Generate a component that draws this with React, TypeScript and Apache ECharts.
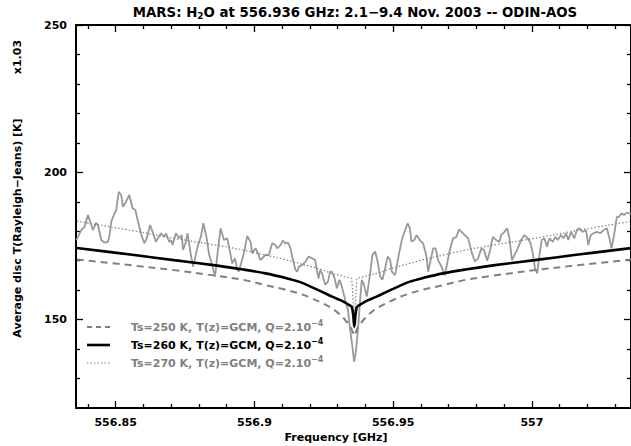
import React, { useEffect, useRef } from "react";
import * as echarts from "echarts";

const FONT = "DejaVu Sans";

const xMin = 556.8357;
const xMax = 557.0357;
const yMin = 120;
const yMax = 250;
const xMajorTicks = [556.85, 556.9, 556.95, 557];
const xMinorTicks = [556.84, 556.86, 556.87, 556.88, 556.89, 556.91, 556.92, 556.93, 556.94, 556.96, 556.97, 556.98, 556.99, 557.01, 557.02, 557.03];
const yMajorTicks = [150, 200, 250];
const yMinorTicks = [130, 140, 160, 170, 180, 190, 210, 220, 230, 240];

const modelFreq = [
  556.836, 556.856, 556.871, 556.886, 556.896, 556.904, 556.911, 556.916, 556.92, 556.924, 556.928, 556.931,
  556.9327, 556.934, 556.935, 556.9352, 556.9356, 556.936, 556.9364, 556.9368, 556.937, 556.938, 556.9393,
  556.941, 556.944, 556.948, 556.952, 556.956, 556.961, 556.968, 556.976, 556.986, 557.001, 557.016, 557.036,
];
const model250 = [
  170.4, 168.4, 166.8, 164.9, 163.5, 161.7, 160.2, 158.9, 157.5, 155.8, 153.8, 151.6, 149.9, 148.4, 146.8, 146.3, 145.4,
  144.5,
  145.4, 146.3, 146.8, 148.4, 149.9, 151.6, 153.8, 155.8, 157.5, 158.9, 160.2, 161.7, 163.5, 164.9, 166.8, 168.4, 170.4,
];
const model260 = [
  174.3, 172.0, 170.2, 168.4, 167.0, 165.7, 164.2, 162.9, 161.3, 159.6, 157.8, 156.6, 155.8, 155.0, 154.4, 154.0, 151.5,
  147.6,
  151.5, 154.0, 154.4, 155.0, 155.8, 156.6, 157.8, 159.6, 161.3, 162.9, 164.2, 165.7, 167.0, 168.4, 170.2, 172.0, 174.3,
];
const model270 = [
  183.4, 180.2, 177.6, 175.3, 173.6, 171.9, 170.4, 169.1, 168.1, 167.0, 165.7, 165.0, 164.5, 164.2, 164.0, 162.0, 156.0,
  149.0,
  156.0, 162.0, 164.0, 164.2, 164.5, 165.0, 165.7, 167.0, 168.1, 169.1, 170.4, 171.9, 173.6, 175.3, 177.6, 180.2, 183.4,
];

const obsFreq = [
  556.8358, 556.8376, 556.8388, 556.84, 556.8412, 556.8418, 556.843, 556.8436, 556.8448, 556.846, 556.8472, 556.8478,
  556.8484, 556.8496, 556.8502, 556.8511, 556.852, 556.8526, 556.8537, 556.8549, 556.8555, 556.8561, 556.8571, 556.8579,
  556.8591, 556.8603, 556.8612, 556.8624, 556.8633, 556.8645, 556.8663, 556.8675, 556.8681, 556.8693, 556.8699, 556.8705,
  556.8717, 556.8729, 556.8738, 556.8743, 556.8753, 556.8759, 556.8771, 556.8779, 556.8786, 556.8795, 556.8807, 556.8816,
  556.8827, 556.8837, 556.8843, 556.8858, 556.8867, 556.8878, 556.889, 556.8902, 556.8911, 556.892, 556.893, 556.8938,
  556.8944, 556.8962, 556.8974, 556.8986, 556.8992, 556.9004, 556.901, 556.9022, 556.9034, 556.904,
  556.9052, 556.9064, 556.9076, 556.9082, 556.9094, 556.9102, 556.9112, 556.9121, 556.913, 556.9136, 556.9148, 556.9154,
  556.916, 556.9172, 556.9184, 556.9196, 556.9208, 556.9219, 556.9225, 556.9231, 556.9237, 556.9243, 556.9255, 556.9265,
  556.9273, 556.9279, 556.9289, 556.9297, 556.9306, 556.9315, 556.9327, 556.9337, 556.9345, 556.9353, 556.9359, 556.9365,
  556.9373, 556.9381, 556.9387, 556.9395, 556.9405, 556.9417, 556.9425, 556.9435, 556.9444, 556.9453, 556.9461, 556.9471,
  556.948, 556.9489, 556.9495, 556.9507, 556.9519, 556.9531, 556.9543, 556.9552, 556.956, 556.9566, 556.9576, 556.9584,
  556.9596, 556.9608, 556.962, 556.9626, 556.9635, 556.9644, 556.9653, 556.9662, 556.9674, 556.9686,
  556.9704, 556.9716, 556.9728, 556.9737, 556.9746, 556.9758, 556.977, 556.9782, 556.9794, 556.9806, 556.9818, 556.9827,
  556.9839, 556.9848, 556.9859, 556.9871, 556.9883, 556.9889, 556.9901, 556.9911, 556.9919, 556.9928, 556.9937, 556.9949,
  556.9961, 556.9973, 556.9985, 556.9995, 557.0003, 557.0011, 557.0019, 557.0027, 557.0035, 557.0045, 557.0054, 557.0063,
  557.0075, 557.0084, 557.0093, 557.0105, 557.0114, 557.0123, 557.0131, 557.0141, 557.0153, 557.0162, 557.0171, 557.0183,
  557.0195, 557.0203, 557.0212, 557.0222, 557.0234, 557.0246, 557.0258, 557.027, 557.0278, 557.0287, 557.0296, 557.0306,
  557.0314, 557.0323, 557.0332, 557.0342, 557.035, 557.0357,
];
const obsTemp = [
  177.0, 180.4, 181.5, 185.5, 182.1, 180.4, 182.9, 182.1, 177.0, 176.1, 176.4, 178.7,
  183.2, 186.1, 187.2, 193.4, 192.3, 188.3, 190.0, 192.3, 190.0, 187.8, 187.2, 183.8,
  179.3, 175.9, 177.6, 182.1, 179.8, 176.4, 179.3, 178.1, 179.3, 176.4, 177.0, 175.3,
  179.3, 177.6, 178.7, 173.6, 176.4, 179.3, 171.9, 168.0, 170.8, 174.7, 178.1, 182.7,
  178.1, 171.9, 170.2, 164.6, 172.5, 181.0, 177.0, 177.6, 173.6, 169.1, 170.8, 166.8,
  166.3, 172.5, 178.4, 176.4, 172.5, 174.2, 173.1, 170.2, 171.4, 172.0,
  171.9, 175.9, 175.3, 174.2, 175.3, 176.8, 175.9, 176.1, 174.2, 171.4, 166.8, 166.3,
  168.0, 168.5, 169.7, 171.4, 170.8, 170.2, 166.8, 164.0, 166.8, 165.9, 161.8, 162.9,
  166.3, 166.3, 164.0, 160.6, 163.5, 161.2, 156.7, 153.3, 146.5, 140.8, 135.7, 138.6,
  146.5, 156.7, 163.5, 161.8, 157.8, 165.7, 171.9, 173.1, 169.7, 164.6, 163.5, 167.4,
  171.4, 170.2, 166.3, 165.1, 171.4, 177.0, 180.4, 182.7, 181.0, 176.5, 177.0, 178.7,
  177.0, 175.9, 171.4, 166.3, 170.2, 174.2, 174.2, 170.2, 168.0, 165.0,
  173.6, 177.6, 178.1, 180.6, 179.8, 178.7, 177.6, 173.1, 169.7, 170.8, 174.2, 173.6,
  170.0, 173.1, 178.1, 177.0, 176.4, 178.7, 179.8, 181.0, 177.6, 170.2, 171.9, 174.2,
  177.0, 178.7, 177.6, 175.9, 172.5, 167.4, 165.7, 171.9, 177.0, 177.6, 174.7, 177.6,
  176.4, 178.1, 177.0, 178.7, 177.6, 179.3, 177.0, 179.8, 177.6, 180.4, 181.0, 179.8,
  180.4, 175.3, 178.7, 179.3, 179.8, 179.3, 180.4, 181.0, 178.1, 174.2, 178.7, 184.9,
  184.9, 186.1, 185.5, 186.3, 186.1, 186.0,
];

const legendLabels = [
  "Ts=250 K, T(z)=GCM, Q=2.10{sup|−4}",
  "Ts=260 K, T(z)=GCM, Q=2.10{sup|−4}",
  "Ts=270 K, T(z)=GCM, Q=2.10{sup|−4}",
];
const titleText = "MARS: H{sub|2}O at 556.936 GHz: 2.1−9.4 Nov. 2003 -- ODIN-AOS";
const yAxisTitle = "Average disc T(Rayleigh−Jeans) [K]";
const scaleNote = "x1.03";
const xAxisTitle = "Frequency [GHz]";

const GRAY_OBS = "#999999";
const GRAY_MODEL = "#808080";

function fmt(v: number) {
  return String(+Number(v).toFixed(3));
}

function valueAxisX(position: string, ticks: number[], major: boolean, labels: boolean) {
  return {
    type: "value",
    min: xMin,
    max: xMax,
    position,
    axisLine: { show: major, onZero: false, lineStyle: { color: "#000", width: 2 } },
    axisTick: { show: true, inside: true, length: major ? 7 : 4, customValues: ticks, lineStyle: { color: "#000", width: 1.3 } },
    axisLabel: labels
      ? { show: true, customValues: ticks, margin: 9, color: "#000", fontFamily: FONT, fontWeight: "bold", fontSize: 11, formatter: fmt }
      : { show: false },
    splitLine: { show: false },
  };
}

function valueAxisY(position: string, ticks: number[], major: boolean, labels: boolean) {
  return {
    type: "value",
    min: yMin,
    max: yMax,
    position,
    axisLine: { show: major, onZero: false, lineStyle: { color: "#000", width: 2 } },
    axisTick: { show: true, inside: true, length: major ? 7 : 4, customValues: ticks, lineStyle: { color: "#000", width: 1.3 } },
    axisLabel: labels
      ? { show: true, customValues: ticks, margin: 9, color: "#000", fontFamily: FONT, fontWeight: "bold", fontSize: 11, formatter: fmt }
      : { show: false },
    splitLine: { show: false },
  };
}

export default function App() {
  const ref = useRef<HTMLDivElement>(null);

  useEffect(() => {
    if (!ref.current) return;
    const chart = echarts.init(ref.current, undefined, { renderer: "svg" });

    const legendStyles = [
      { stroke: GRAY_MODEL, lineWidth: 2, lineDash: [5, 4], color: GRAY_MODEL },
      { stroke: "#000", lineWidth: 2.6, lineDash: null, color: "#000" },
      { stroke: GRAY_MODEL, lineWidth: 1.2, lineDash: [1.5, 2], color: GRAY_MODEL },
    ];
    const legendY = [327, 345, 363];
    const legendGraphics: any[] = [];
    legendLabels.forEach((lab, i) => {
      const st = legendStyles[i];
      legendGraphics.push({
        type: "line",
        shape: { x1: 87, y1: legendY[i], x2: 110, y2: legendY[i] },
        style: { stroke: st.stroke, lineWidth: st.lineWidth, lineDash: st.lineDash || undefined },
      });
      legendGraphics.push({
        type: "text",
        x: 131,
        y: legendY[i],
        style: {
          text: lab,
          fill: st.color,
          fontFamily: FONT,
          fontWeight: "bold",
          fontSize: 11,
          align: "left",
          verticalAlign: "middle",
          lineHeight: 16,
          rich: {
            sup: { fontFamily: FONT, fontWeight: "bold", fontSize: 8, fill: st.color, verticalAlign: "top", lineHeight: 16, padding: [0, 0, 6, 0] },
          },
        },
      });
    });

    chart.setOption({
      animation: false,
      grid: { left: 76, right: -2, top: 25, bottom: 38, containLabel: false },
      xAxis: [
        valueAxisX("bottom", xMajorTicks, true, true),
        valueAxisX("bottom", xMinorTicks, false, false),
        valueAxisX("top", xMajorTicks, true, false),
        valueAxisX("top", xMinorTicks, false, false),
      ],
      yAxis: [
        valueAxisY("left", yMajorTicks, true, true),
        valueAxisY("left", yMinorTicks, false, false),
        valueAxisY("right", yMajorTicks, true, false),
        valueAxisY("right", yMinorTicks, false, false),
      ],
      series: [
        {
          type: "line",
          name: "observed",
          xAxisIndex: 0,
          yAxisIndex: 0,
          data: obsFreq.map((f, i) => [f, obsTemp[i]]),
          symbol: "none",
          lineStyle: { color: GRAY_OBS, width: 1.8 },
          z: 2,
        },
        {
          type: "line",
          name: "Ts=250",
          data: modelFreq.map((f, i) => [f, model250[i]]),
          symbol: "none",
          smooth: 0.35,
          lineStyle: { color: GRAY_MODEL, width: 2, type: [7, 5] },
          z: 3,
        },
        {
          type: "line",
          name: "Ts=260",
          data: modelFreq.map((f, i) => [f, model260[i]]),
          symbol: "none",
          smooth: 0.35,
          lineStyle: { color: "#000", width: 2.6 },
          z: 4,
        },
        {
          type: "line",
          name: "Ts=270",
          data: modelFreq.map((f, i) => [f, model270[i]]),
          symbol: "none",
          smooth: 0.35,
          lineStyle: { color: GRAY_MODEL, width: 1.2, type: [1.5, 2] },
          z: 3,
        },
      ],
      graphic: [
        {
          type: "text",
          x: 355,
          y: 12,
          style: {
            text: titleText,
            fill: "#000",
            fontFamily: FONT,
            fontWeight: "bold",
            fontSize: 13.3,
            align: "center",
            verticalAlign: "middle",
            lineHeight: 16,
            rich: {
              sub: { fontFamily: FONT, fontWeight: "bold", fontSize: 9, fill: "#000", verticalAlign: "bottom", lineHeight: 16, padding: [4, 0, 0, 0] },
            },
          },
        },
        {
          type: "text",
          x: 17,
          y: 228,
          rotation: Math.PI / 2,
          style: { text: yAxisTitle, fill: "#000", fontFamily: FONT, fontWeight: "bold", fontSize: 11, align: "center", verticalAlign: "middle" },
        },
        {
          type: "text",
          x: 17,
          y: 57,
          rotation: Math.PI / 2,
          style: { text: scaleNote, fill: "#000", fontFamily: FONT, fontWeight: "bold", fontSize: 11, align: "center", verticalAlign: "middle" },
        },
        {
          type: "text",
          x: 336,
          y: 437,
          style: { text: xAxisTitle, fill: "#000", fontFamily: FONT, fontWeight: "bold", fontSize: 11, align: "center", verticalAlign: "middle" },
        },
        ...legendGraphics,
      ],
    });

    return () => {
      chart.dispose();
    };
  }, []);

  return <div ref={ref} style={{ position: "fixed", left: 0, top: 0, width: 631, height: 446, background: "#fff" }} />;
}
